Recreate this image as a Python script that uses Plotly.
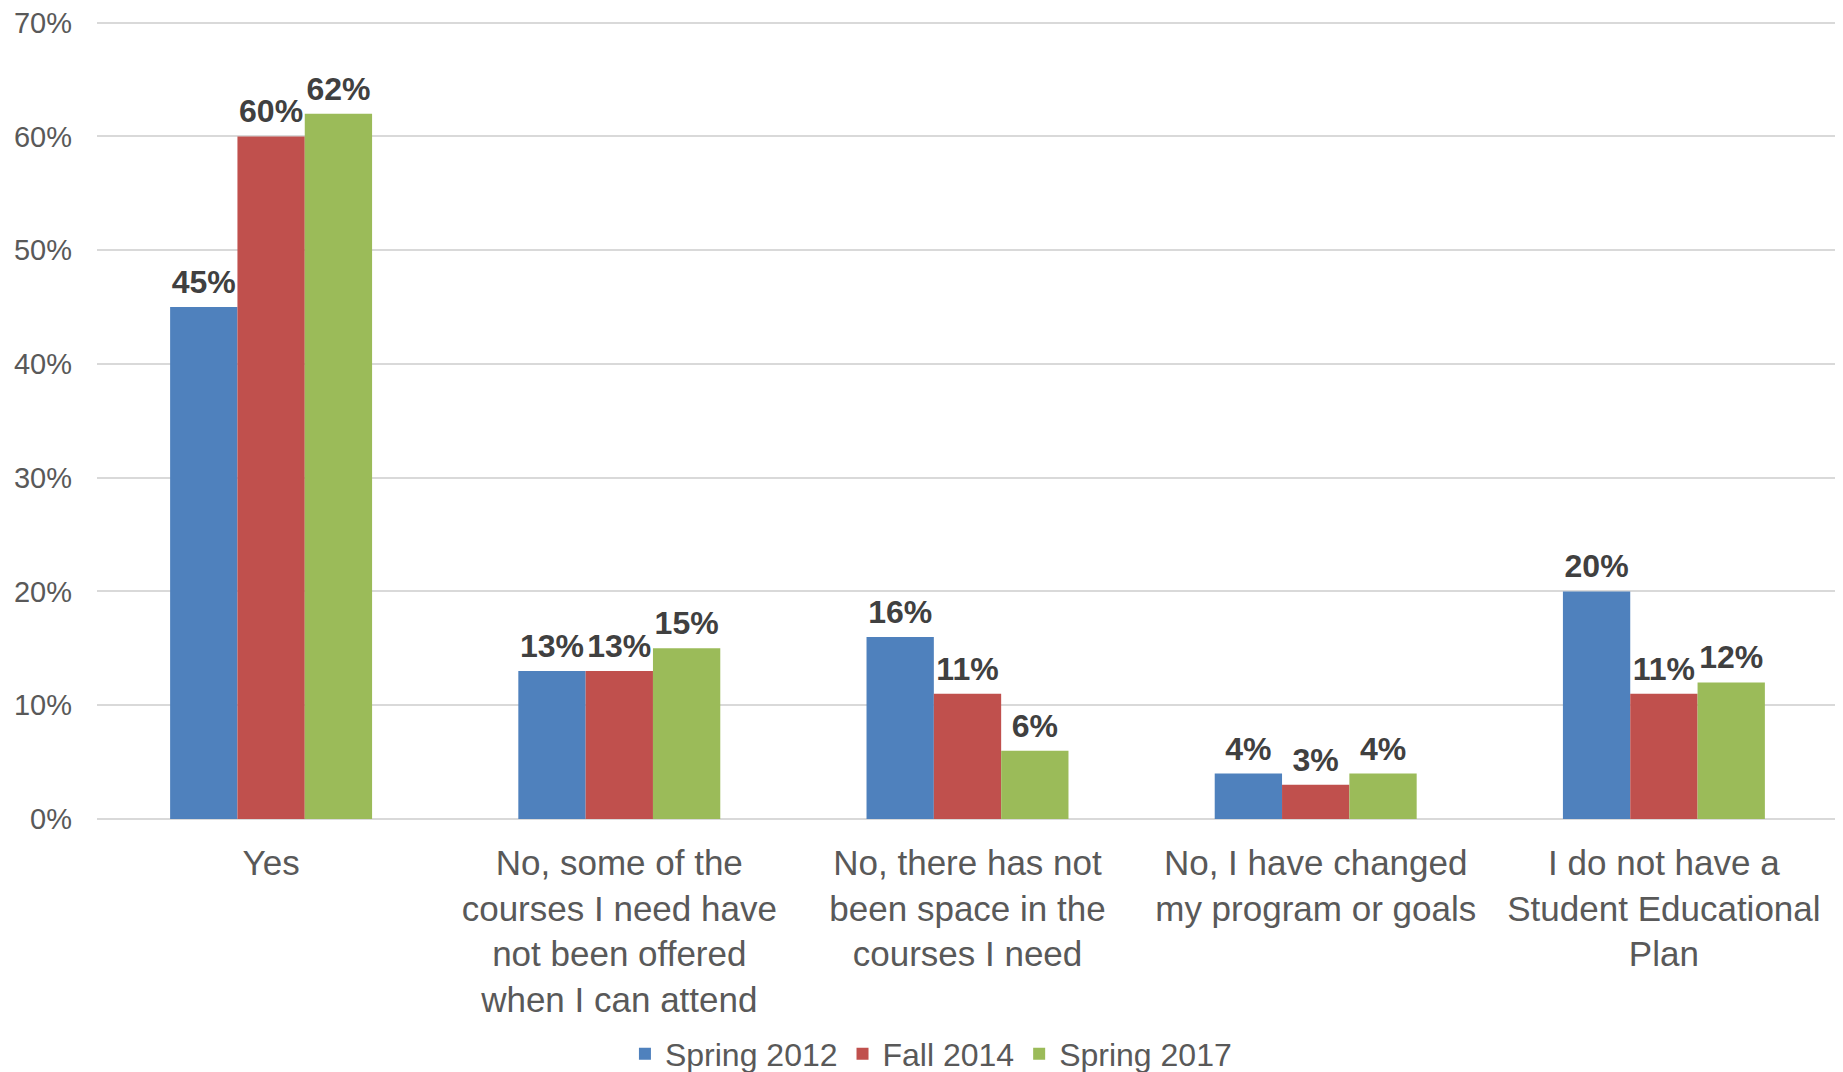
import plotly.graph_objects as go

categories = [
    "Yes",
    "No, some of the<br>courses I need have<br>not been offered<br>when I can attend",
    "No, there has not<br>been space in the<br>courses I need",
    "No, I have changed<br>my program or goals",
    "I do not have a<br>Student Educational<br>Plan",
]
series_names = ["Spring 2012", "Fall 2014", "Spring 2017"]
spring_2012 = [0.45, 0.13, 0.16, 0.04, 0.20]
fall_2014 = [0.60, 0.13, 0.11, 0.03, 0.11]
spring_2017 = [0.62, 0.15, 0.06, 0.04, 0.12]
colors = ["#4F81BD", "#C0504D", "#9BBB59"]

FONT = "Liberation Sans, Arial, sans-serif"
GAP = 0.42

fig = go.Figure()
for name, vals, col in zip(series_names, [spring_2012, fall_2014, spring_2017], colors):
    fig.add_trace(go.Bar(
        name=name, x=categories, y=vals,
        marker=dict(color=col, line=dict(width=0)),
    ))
for name, vals in zip(series_names, [spring_2012, fall_2014, spring_2017]):
    fig.add_trace(go.Scatter(
        x=categories, y=vals, mode="markers+text",
        marker=dict(size=8, opacity=0),
        text=[f"{round(v*100)}%" for v in vals],
        textposition="top center",
        textfont=dict(family=FONT, size=32, color="#404040", weight="bold"),
        cliponaxis=False, showlegend=False, hoverinfo="skip",
    ))

fig.update_layout(
    width=1835, height=1064,
    margin=dict(l=89, r=5, t=9, b=253, autoexpand=False),
    paper_bgcolor="white", plot_bgcolor="white",
    barmode="group", bargap=GAP, bargroupgap=0,
    scattermode="group", scattergap=GAP,
    font=dict(family=FONT, color="#595959"),
    showlegend=True,
    legend=dict(orientation="h", x=0.479, xanchor="center",
                yref="container", y=0.017, yanchor="middle",
                font=dict(size=32, color="#595959"), traceorder="normal"),
)
fig.update_xaxes(
    tickfont=dict(size=35, color="#595959"), showgrid=False, zeroline=False,
    showline=False, ticks="", ticklabelstandoff=20, automargin=False,
)
fig.update_yaxes(
    range=[0, 0.705], tickvals=[0, 0.1, 0.2, 0.3, 0.4, 0.5, 0.6, 0.7],
    tickformat=".0%", ticklabeloverflow="allow",
    tickfont=dict(size=29, color="#595959"),
    showgrid=True, gridcolor="#D9D9D9", gridwidth=2,
    zeroline=True, zerolinecolor="#D9D9D9", zerolinewidth=2,
    showline=False, ticks="", ticklabelstandoff=24, automargin=False,
)
fig.write_html("out.html")
